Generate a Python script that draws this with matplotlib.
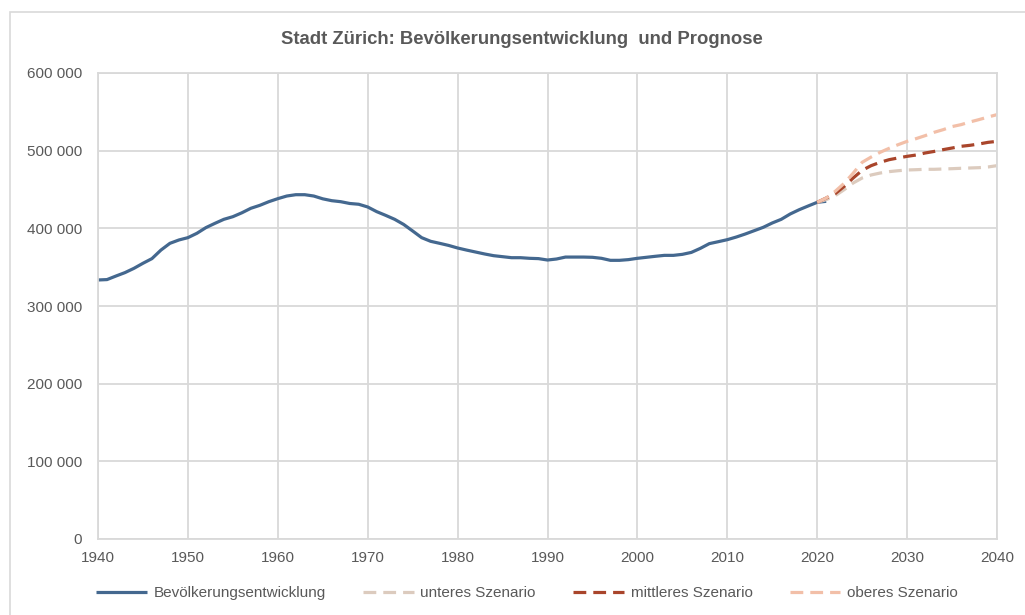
import matplotlib
matplotlib.use("Agg")
import matplotlib.pyplot as plt
from matplotlib.patches import Rectangle
from matplotlib.ticker import FuncFormatter

plt.rcParams['font.family'] = ['Liberation Sans', 'DejaVu Sans']

# Bevoelkerung Stadt Zuerich (in Tausend), 1940-2021
jahre = list(range(1940, 2022))
bevoelkerung = [333.5, 334.0, 338.6, 343.0, 348.5, 355.0, 361.0, 372.0, 380.7, 385.0,
                388.0, 393.6, 400.9, 406.4, 411.6, 415.0, 420.0, 425.8, 429.6, 434.3,
                438.2, 441.6, 443.3, 443.3, 441.6, 438.0, 435.6, 434.3, 432.0, 431.0,
                427.5, 421.5, 416.7, 411.6, 405.0, 396.6, 388.0, 383.3, 380.7, 378.0,
                374.7, 372.0, 369.5, 367.0, 364.8, 363.5, 362.2, 362.2, 361.4, 361.0,
                359.2, 360.5, 363.0, 363.0, 363.0, 362.7, 361.4, 358.8, 358.8, 359.7,
                361.4, 362.7, 364.0, 365.2, 365.2, 366.5, 369.0, 374.2, 380.3, 382.8,
                385.4, 388.8, 392.7, 397.0, 401.3, 406.9, 411.6, 418.5, 424.0, 428.8,
                433.5, 434.8]

# Prognose 2020-2040 (in Tausend)
prognose_jahre = list(range(2020, 2041))
unteres = [433.5, 437.0, 442.0, 449.8, 458.4, 464.8, 468.7, 471.2, 473.0, 474.2,
           475.1, 475.5, 476.0, 476.0, 476.4, 476.8, 477.3, 477.7, 478.1, 479.0, 480.7]
mittleres = [433.5, 439.0, 444.6, 454.0, 464.8, 474.7, 480.7, 485.0, 488.4, 490.6,
             492.7, 494.4, 497.0, 499.0, 501.3, 503.4, 505.6, 506.9, 508.6, 510.7, 512.0]
oberes = [433.5, 439.0, 447.6, 458.0, 471.0, 485.0, 491.8, 497.9, 503.0, 507.7,
          512.0, 515.5, 519.3, 523.6, 527.0, 531.0, 533.5, 537.0, 540.0, 543.3, 546.4]

namen = ['Bevölkerungsentwicklung', 'unteres Szenario', 'mittleres Szenario', 'oberes Szenario']
farben = ['#44688F', '#DCCBBE', '#A9452B', '#F2BFA8']
titel = 'Stadt Zürich: Bevölkerungsentwicklung  und Prognose'

grau = '#D9D9D9'
textgrau = '#595959'

fig = plt.figure(figsize=(10.25, 6.15), dpi=100)
ax = fig.add_axes([98/1025, 1-539/615, (997-98)/1025, (539-73)/615])

# Rahmen um das Diagramm
fig.patches.append(Rectangle((10/1025, -0.2), 1.2, 1.2 - 12/615, transform=fig.transFigure,
                             fill=False, edgecolor=grau, lw=1.2))

ax.plot(jahre, [v*1000 for v in bevoelkerung], color=farben[0], lw=2.3, label=namen[0],
        solid_capstyle='butt')
for werte, name, farbe in zip([unteres, mittleres, oberes], namen[1:], farben[1:]):
    ax.plot(prognose_jahre, [v*1000 for v in werte], color=farbe, lw=2.3, label=name,
            dashes=(4, 2.2))

ax.set_xlim(1940, 2040)
ax.set_ylim(0, 600000)
ax.set_xticks(range(1940, 2041, 10))
ax.set_yticks(range(0, 600001, 100000))
ax.yaxis.set_major_formatter(FuncFormatter(lambda v, p: f'{int(v):,}'.replace(',', ' ')))
ax.grid(True, color=grau, lw=1.3)
ax.set_axisbelow(True)
for s in ax.spines.values():
    s.set_color(grau)
    s.set_linewidth(1.3)
ax.tick_params(length=0, labelsize=11, colors=textgrau)
ax.tick_params(axis='y', pad=11.5)
ax.tick_params(axis='x', pad=8.5)

fig.text(522/1025, 1-40/615, titel, ha='center', va='center', fontsize=13.3,
         fontweight='bold', color=textgrau)

fig.legend(loc='center', bbox_to_anchor=(527/1025, 1-593/615), ncol=4, frameon=False,
           fontsize=11, labelcolor=textgrau, handlelength=3.3, handletextpad=0.45,
           columnspacing=2.45)

fig.savefig('out.png', dpi=100)
